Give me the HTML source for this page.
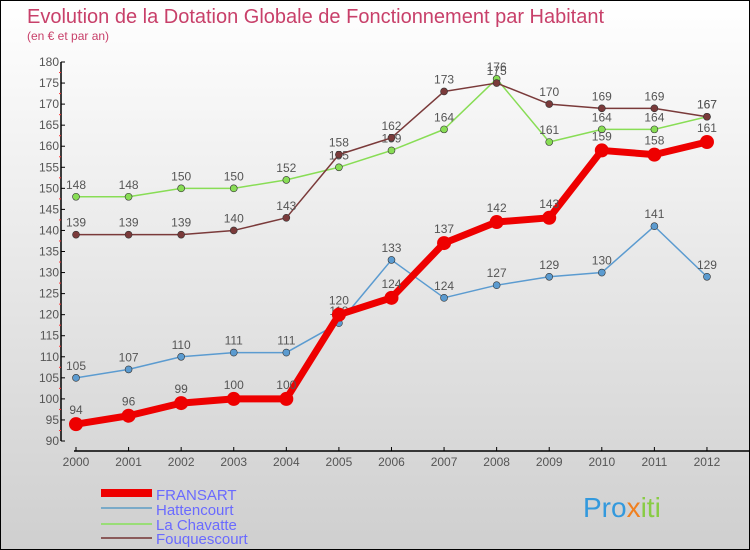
<!DOCTYPE html>
<html><head><meta charset="utf-8"><style>
body{margin:0;}
#c{width:748px;height:548px;border:1px solid #000;background:linear-gradient(#fff,#cfcfcf);position:relative;font-family:"Liberation Sans",sans-serif;overflow:hidden}
svg text{font-family:"Liberation Sans",sans-serif}
</style></head><body>
<div id="c">
<svg id="s" width="748" height="548">
<text x="26" y="22" font-size="20" fill="#c8406a">Evolution de la Dotation Globale de Fonctionnement par Habitant</text>
<text x="26" y="39" font-size="12" fill="#c8406a">(en € et par an)</text>
<g id="axes"></g><g id="plot"></g>
<g>
<line x1="100" y1="492" x2="151" y2="492" stroke="#e00" stroke-width="8"/>
<text x="155" y="499" font-size="15" fill="#6a6aff">FRANSART</text>
<line x1="100" y1="507" x2="151" y2="507" stroke="#7aaac8" stroke-width="2"/>
<text x="155" y="514" font-size="15" fill="#6a6aff">Hattencourt</text>
<line x1="100" y1="523" x2="151" y2="523" stroke="#99dd77" stroke-width="2"/>
<text x="155" y="529" font-size="15" fill="#6a6aff">La Chavatte</text>
<line x1="100" y1="537" x2="151" y2="537" stroke="#8a5a5a" stroke-width="2"/>
<text x="155" y="543" font-size="15" fill="#6a6aff">Fouquescourt</text>
</g>
<text x="582" y="516" font-size="28" fill="#3399dd">Pro<tspan fill="#f08020">x</tspan><tspan fill="#88cc44">iti</tspan></text>
</svg></div>
<script>
const years=[2000,2001,2002,2003,2004,2005,2006,2007,2008,2009,2010,2011,2012];
const fransart=[94,96,99,100,100,120,124,137,142,143,159,158,161];
const hattencourt=[105,107,110,111,111,118,133,124,127,129,130,141,129];
const chavatte=[148,148,150,150,152,155,159,164,176,161,164,164,167];
const fouquescourt=[139,139,139,140,143,158,162,173,175,170,169,169,167];
const yTicks=[90,95,100,105,110,115,120,125,130,135,140,145,150,155,160,165,170,175,180];
const NS="http://www.w3.org/2000/svg";
const X=i=>75+i*52.58, Y=v=>440-(v-90)*(379/90);
function mk(t,a,p){const e=document.createElementNS(NS,t);for(const k in a)e.setAttribute(k,a[k]);p.appendChild(e);return e;}
const ax=document.getElementById('axes'),pl=document.getElementById('plot');
let l=mk('line',{x1:60,y1:Y(180),x2:60,y2:Y(90),stroke:'#000','stroke-width':1.5},ax);


l=mk('line',{x1:73,y1:450,x2:748,y2:450,stroke:'#000','stroke-width':1.5},ax);


yTicks.forEach(v=>{mk('line',{x1:60,y1:Y(v),x2:64,y2:Y(v),stroke:'#000'},ax);
 if(v<180)mk('line',{x1:58,y1:Y(v+2.5),x2:60,y2:Y(v+2.5),stroke:'#f33'},ax);
 const t=mk('text',{x:58,y:Y(v)+4,'font-size':12,fill:'#555','text-anchor':'end'},ax);t.textContent=v;
 
 });
years.forEach((y,i)=>{mk('line',{x1:X(i),y1:446,x2:X(i),y2:450,stroke:'#000'},ax);
 const t=mk('text',{x:X(i),y:465,'font-size':12,fill:'#555','text-anchor':'middle'},ax);t.textContent=y;
 
 });
function series(d,col,w,r,name){
 const p=mk('polyline',{points:d.map((v,i)=>X(i)+','+Y(v)).join(' '),fill:'none',stroke:col,'stroke-width':w,'stroke-linejoin':'round'},pl);
 
 
 d.forEach((v,i)=>{const c=mk('circle',{cx:X(i),cy:Y(v),r:r,fill:col,stroke:'#333','stroke-width':r>5?0:0.6},pl);
  
  
  const t=mk('text',{x:X(i),y:Y(v)-8-(r>5?2:0),'font-size':12,fill:'#555','text-anchor':'middle'},pl);t.textContent=v;
  
  });
}
series(hattencourt,'#5b9bd0',1.5,3.5,'hattencourt');
series(chavatte,'#88dd55',1.5,3.5,'la-chavatte');
series(fouquescourt,'#7a3a3a',1.5,3.5,'fouquescourt');
series(fransart,'#ee0000',7,7,'fransart');
</script>
</body></html>
